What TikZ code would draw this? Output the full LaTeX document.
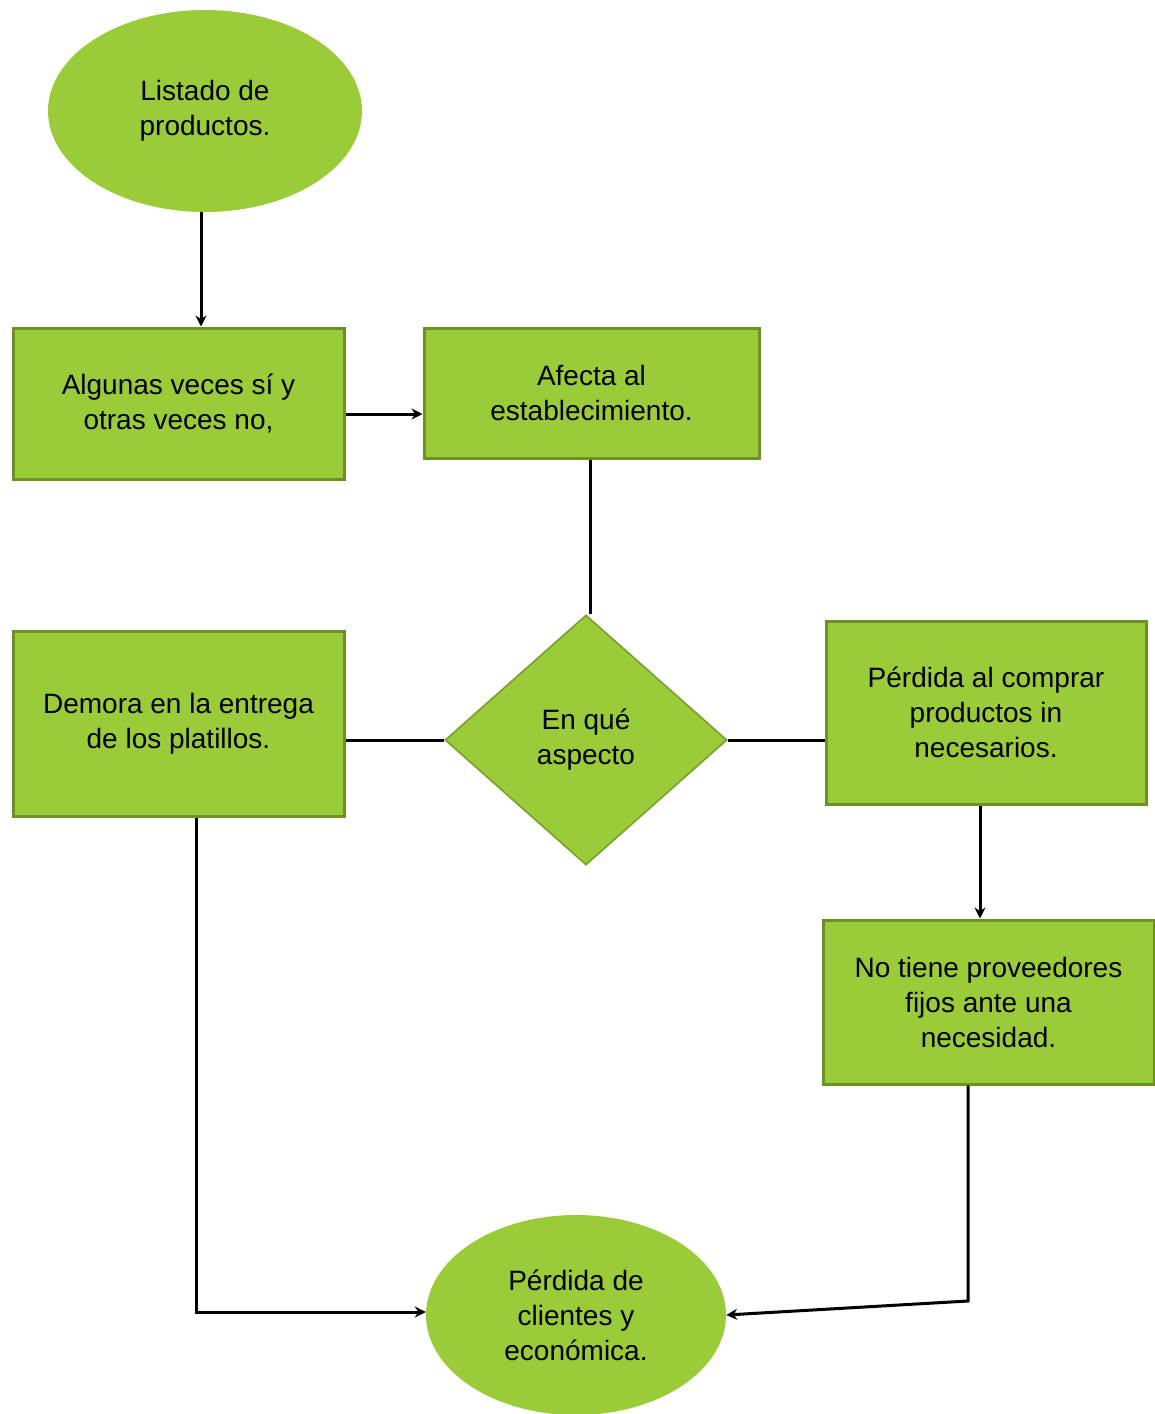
\documentclass[tikz,border=0pt]{standalone}
\usepackage{fontspec}
\setmainfont{Liberation Sans}
\usetikzlibrary{shapes.geometric,arrows.meta}
\definecolor{gfill}{RGB}{154,203,56}
\definecolor{gline}{RGB}{108,145,36}
\begin{document}
\begin{tikzpicture}[x=1pt,y=-1pt,
  every node/.style={font=\fontsize{28}{35}\selectfont, align=center, inner sep=0pt, text=black},
  boxnode/.style={rectangle, fill=gfill, draw=gline, line width=3pt},
  ovalnode/.style={ellipse, fill=gfill, draw=none},
  dianode/.style={diamond, fill=gfill, draw=gline!80!gfill, line width=1.5pt},
  conn/.style={draw=black, line width=3pt},
  arr/.style={conn, -{Stealth[length=11pt,width=11pt]}}]
\useasboundingbox (0,0) rectangle (1155,1414);
\clip (0,0) rectangle (1155,1414);

\node[ovalnode, minimum width=314, minimum height=202] (top) at (205,111) {Listado de\\productos.};
\node[boxnode, minimum width=331, minimum height=151] (b1) at (178.5,403.5) {Algunas veces sí y\\otras veces no,};
\node[boxnode, minimum width=335, minimum height=130] (b2) at (591.5,393) {Afecta al\\establecimiento.};
\node[dianode, minimum width=282, minimum height=250] (dia) at (586,740) {En qué\\aspecto};
\node[boxnode, minimum width=331, minimum height=185] (left) at (178.5,723.5) {Demora en la entrega\\de los platillos.};
\node[boxnode, minimum width=320, minimum height=183] (right) at (986,712.5) {Pérdida al comprar\\productos in\\necesarios.};
\node[boxnode, minimum width=331, minimum height=164] (right2) at (988.5,1002) {No tiene proveedores\\fijos ante una\\necesidad.};
\node[ovalnode, minimum width=300, minimum height=200] (bot) at (576,1315) {Pérdida de\\clientes y\\económica.};

\coordinate (c1) at (968,1301);
\coordinate (c2) at (196,1312);

\draw[arr] (top.south -| 201,0) -- (b1.north -| 201,0);
\draw[arr] (b1.east |- 0,414) -- (b2.west |- 0,414);
\draw[conn] (b2.south -| 590,0) -- (dia.north -| 590,0);
\draw[conn] (dia.west) -- (dia.west -| left.east);
\draw[conn] (dia.east) -- (dia.east -| right.west);
\draw[arr] (right.south -| 980,0) -- (right2.north -| 980,0);
\draw[arr] (left.south -| c2) -- (c2) -- (bot.west |- c2);
\draw[arr] (right2.south -| c1) -- (c1) -- (bot.east);
\end{tikzpicture}
\end{document}
